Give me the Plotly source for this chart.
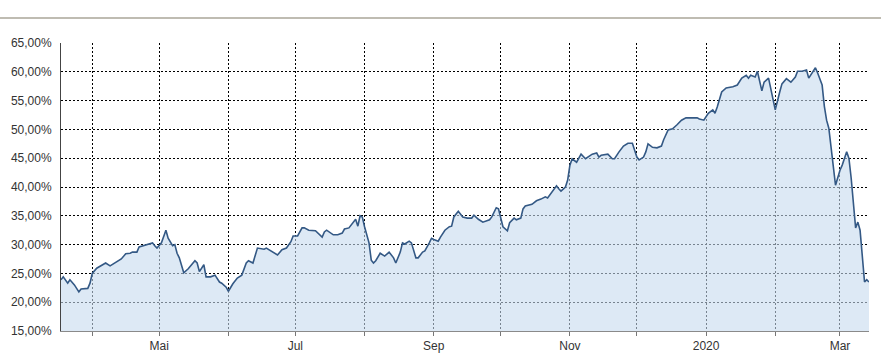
import plotly.graph_objects as go

dates = [
    "2019-03-18", "2019-03-19", "2019-03-21", "2019-03-22", "2019-03-24", "2019-03-26", "2019-03-27",
    "2019-03-30", "2019-03-31", "2019-04-01", "2019-04-03", "2019-04-05", "2019-04-07", "2019-04-09",
    "2019-04-11", "2019-04-14", "2019-04-16", "2019-04-18", "2019-04-19", "2019-04-21", "2019-04-22",
    "2019-04-25", "2019-04-27", "2019-04-28", "2019-04-29", "2019-04-30", "2019-05-02", "2019-05-04",
    "2019-05-05", "2019-05-07", "2019-05-08", "2019-05-09", "2019-05-10", "2019-05-12", "2019-05-14",
    "2019-05-17", "2019-05-18", "2019-05-19", "2019-05-21", "2019-05-22", "2019-05-24", "2019-05-26",
    "2019-05-28", "2019-05-29", "2019-05-31", "2019-06-01", "2019-06-03", "2019-06-05", "2019-06-07",
    "2019-06-09", "2019-06-10", "2019-06-12", "2019-06-14", "2019-06-17", "2019-06-18", "2019-06-20",
    "2019-06-23", "2019-06-25", "2019-06-27", "2019-06-29", "2019-06-30", "2019-07-02", "2019-07-04",
    "2019-07-05", "2019-07-07", "2019-07-10", "2019-07-11", "2019-07-13", "2019-07-14", "2019-07-15",
    "2019-07-18", "2019-07-20", "2019-07-22", "2019-07-23", "2019-07-25", "2019-07-27", "2019-07-28",
    "2019-07-29", "2019-07-30", "2019-07-31", "2019-08-01", "2019-08-03", "2019-08-04", "2019-08-05",
    "2019-08-06", "2019-08-08", "2019-08-10", "2019-08-12", "2019-08-14", "2019-08-15", "2019-08-17",
    "2019-08-18", "2019-08-19", "2019-08-21", "2019-08-22", "2019-08-24", "2019-08-25", "2019-08-27",
    "2019-08-28", "2019-08-30", "2019-08-31", "2019-09-01", "2019-09-03", "2019-09-04", "2019-09-06",
    "2019-09-08", "2019-09-09", "2019-09-10", "2019-09-12", "2019-09-14", "2019-09-16", "2019-09-18",
    "2019-09-19", "2019-09-21", "2019-09-23", "2019-09-26", "2019-09-27", "2019-09-29", "2019-09-30",
    "2019-10-02", "2019-10-04", "2019-10-05", "2019-10-07", "2019-10-08", "2019-10-10", "2019-10-11",
    "2019-10-12", "2019-10-15", "2019-10-17", "2019-10-19", "2019-10-21", "2019-10-22", "2019-10-24",
    "2019-10-26", "2019-10-27", "2019-10-28", "2019-10-30", "2019-10-31", "2019-11-01", "2019-11-02",
    "2019-11-04", "2019-11-05", "2019-11-06", "2019-11-08", "2019-11-09", "2019-11-11", "2019-11-13",
    "2019-11-14", "2019-11-15", "2019-11-18", "2019-11-20", "2019-11-21", "2019-11-23", "2019-11-25",
    "2019-11-27", "2019-11-29", "2019-11-30", "2019-12-01", "2019-12-02", "2019-12-04", "2019-12-05",
    "2019-12-06", "2019-12-08", "2019-12-10", "2019-12-12", "2019-12-13", "2019-12-15", "2019-12-17",
    "2019-12-19", "2019-12-21", "2019-12-23", "2019-12-26", "2019-12-28", "2019-12-29", "2019-12-31",
    "2020-01-02", "2020-01-04", "2020-01-05", "2020-01-06", "2020-01-08", "2020-01-10", "2020-01-13",
    "2020-01-15", "2020-01-17", "2020-01-19", "2020-01-20", "2020-01-21", "2020-01-23", "2020-01-24",
    "2020-01-26", "2020-01-27", "2020-01-29", "2020-01-30", "2020-02-01", "2020-02-03", "2020-02-04",
    "2020-02-06", "2020-02-08", "2020-02-10", "2020-02-11", "2020-02-13", "2020-02-15", "2020-02-16",
    "2020-02-19", "2020-02-20", "2020-02-22", "2020-02-23", "2020-02-24", "2020-02-25", "2020-02-26",
    "2020-02-28", "2020-03-01", "2020-03-02", "2020-03-04", "2020-03-05", "2020-03-06", "2020-03-08",
    "2020-03-09", "2020-03-10", "2020-03-12", "2020-03-13", "2020-03-14",
]

# values in percent
values = [
    23.9, 24.4, 23.3, 23.9, 23.0, 21.8, 22.3,
    22.4, 23.3, 25.0, 25.9, 26.3, 26.8, 26.3,
    26.8, 27.5, 28.4, 28.5, 28.7, 28.7, 29.6,
    29.9, 30.1, 30.3, 29.8, 29.4, 30.3, 32.5,
    31.1, 29.8, 30.0, 28.5, 27.7, 25.1, 25.8,
    27.2, 26.8, 25.3, 26.5, 24.4, 24.4, 24.7,
    23.5, 23.3, 22.6, 21.9, 23.2, 24.2, 24.7,
    26.8, 27.2, 26.8, 29.4, 29.2, 29.4, 28.9,
    28.2, 29.1, 29.4, 30.5, 31.5, 31.5, 32.9,
    32.9, 32.5, 32.4, 32.0, 31.3, 32.2, 32.5,
    31.7, 31.7, 32.0, 32.7, 32.9, 33.8, 34.4,
    33.2, 35.0, 34.8, 33.1, 30.3, 27.3, 26.8,
    27.2, 28.5, 28.0, 28.7, 27.7, 26.8, 28.7,
    30.3, 30.1, 30.6, 30.3, 27.7, 27.7, 28.7,
    28.9, 30.3, 31.1, 30.9, 30.6, 31.3, 32.5,
    33.1, 33.2, 34.8, 35.8, 34.8, 34.6, 34.6,
    35.1, 34.4, 33.9, 34.3, 34.8, 36.4, 36.2,
    33.1, 32.4, 33.8, 34.6, 34.3, 34.6, 36.2,
    36.7, 37.0, 37.6, 37.9, 38.3, 38.1, 39.1,
    40.2, 39.7, 39.3, 40.0, 41.2, 43.8, 44.9,
    44.3, 45.0, 45.7, 44.9, 45.2, 45.7, 45.9,
    45.2, 45.5, 45.7, 44.9, 44.9, 46.1, 47.1,
    47.6, 47.6, 46.4, 45.2, 44.7, 45.2, 46.1,
    47.5, 46.9, 46.8, 47.1, 48.2, 49.9, 50.1,
    50.8, 51.6, 52.0, 52.0, 52.0, 51.8, 51.6,
    52.8, 53.4, 52.8, 53.9, 56.5, 57.2, 57.4,
    57.7, 58.9, 59.4, 58.9, 59.4, 59.1, 60.1,
    56.7, 58.2, 58.9, 57.2, 53.4, 56.5, 57.9,
    58.8, 58.2, 59.1, 60.1, 60.1, 60.3, 58.9,
    60.7, 59.8, 57.7, 54.0, 51.6, 50.2, 46.8,
    40.3, 42.9, 43.8, 46.1, 45.0, 41.6, 32.9,
    33.9, 32.5, 23.5, 23.9, 23.5,
]

month_ticks = [
    "2019-04-01", "2019-05-01", "2019-06-01", "2019-07-01", "2019-08-01", "2019-09-01",
    "2019-10-01", "2019-11-01", "2019-12-01", "2020-01-01", "2020-02-01", "2020-03-01",
]
month_labels = ["", "Mai", "", "Jul", "", "Sep", "", "Nov", "", "2020", "", "Mar"]

y_ticks = [15, 20, 25, 30, 35, 40, 45, 50, 55, 60, 65]

fig = go.Figure()
fig.add_trace(go.Scatter(
    x=dates, y=[v / 100 for v in values], mode="lines",
    line=dict(color="#345985", width=1.6),
    fill="tozeroy", fillcolor="rgba(198,218,238,0.6)",
    showlegend=False, hoverinfo="skip",
))

font = dict(family="Liberation Sans, Arial, sans-serif", size=12, color="#333333")

fig.update_layout(
    width=881, height=355,
    margin=dict(l=61, r=12, t=43, b=24, autoexpand=False),
    paper_bgcolor="white", plot_bgcolor="white",
    separators=",.",
    font=font,
    xaxis=dict(
        type="date",
        range=["2019-03-18", "2020-03-14"],
        tickvals=month_ticks, ticktext=month_labels,
        showgrid=True, gridcolor="#000000", gridwidth=1, griddash="2px,2px",
        showline=True, linecolor="#8a8a8a", linewidth=1,
        ticks="outside", ticklen=4, tickcolor="#777777",
        tickfont=font, zeroline=False, automargin=False,
    ),
    yaxis=dict(
        range=[0.15, 0.65], tickvals=[t / 100 for t in y_ticks],
        tickformat=".2%",
        showgrid=True, gridcolor="#000000", gridwidth=1, griddash="2px,2px",
        showline=True, linecolor="#444444", linewidth=1,
        ticks="", ticklabelstandoff=6,
        tickfont=font, zeroline=False, automargin=False,
    ),
    shapes=[dict(
        type="line", xref="paper", yref="paper",
        x0=-61 / 808, x1=(881 - 61) / 808, y0=(331 - 18) / 288, y1=(331 - 18) / 288,
        line=dict(color="#aaa698", width=1.5),
    )],
)

fig.write_html("out.html")
